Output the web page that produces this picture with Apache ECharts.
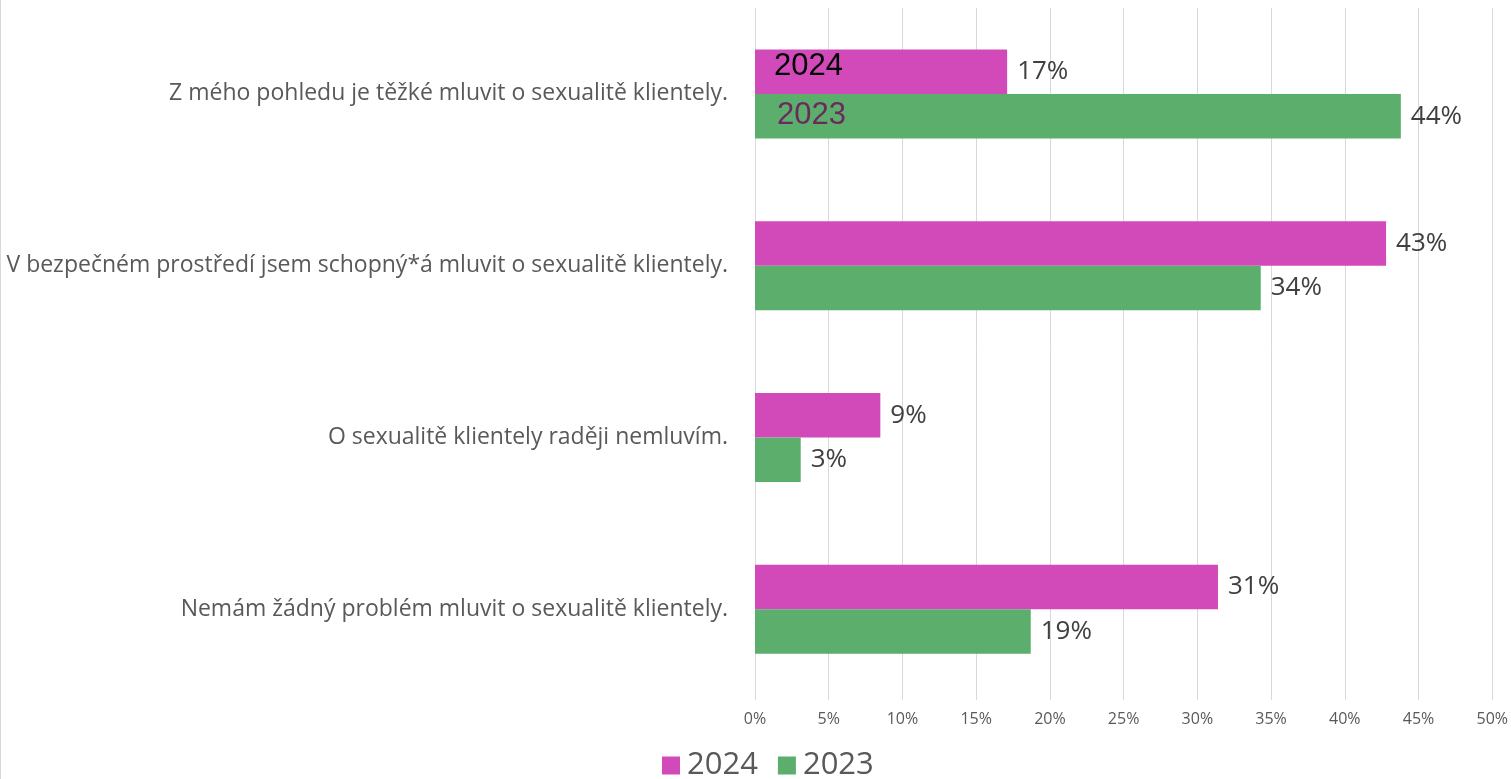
<!DOCTYPE html>
<html><head><meta charset="utf-8">
<script src="https://cdn.jsdelivr.net/npm/echarts@6/dist/echarts.min.js"></script>
<style>html,body{margin:0;padding:0;background:#fff}#c{width:1511px;height:779px}</style>
</head><body><div id="c"></div>
<script>
const categories = [
  'Z mého pohledu je těžké mluvit o sexualitě klientely.',
  'V bezpečném prostředí jsem schopný*á mluvit o sexualitě klientely.',
  'O sexualitě klientely raději nemluvím.',
  'Nemám žádný problém mluvit o sexualitě klientely.'
];
const seriesNames = ['2024', '2023'];
const values2024 = [17.1, 42.8, 8.5, 31.4];
const values2023 = [43.8, 34.3, 3.1, 18.7];
const xMin = 0, xMax = 50, xStep = 5;
const insideLabels = ['2024', '2023'];

const colors = ['#D24AB9', '#5BAE6B'];
const chart = echarts.init(document.getElementById('c'), null, {renderer: 'canvas'});
const valueLabel = {
  show: true, position: 'right', distance: 10,
  formatter: p => Math.round(p.value) + '%',
  color: '#404040', fontFamily: 'Open Sans', fontSize: 26
};
chart.setOption({
  animation: false,
  backgroundColor: '#fff',
  grid: {left: 755, right: 18, top: 8, bottom: 84, containLabel: false},
  legend: {
    data: seriesNames, left: 657, top: 745, itemWidth: 18, itemHeight: 18, itemGap: 20,
    icon: 'rect',
    textStyle: {fontFamily: 'Liberation Sans Narrow, Open Sans', fontSize: 31, color: '#595959', padding: [0,0,0,2]}
  },
  xAxis: {
    type: 'value', min: xMin, max: xMax, interval: xStep,
    axisLabel: {formatter: v => v + '%', fontFamily: 'Liberation Sans Narrow, Open Sans', fontSize: 16, color: '#595959', margin: 16},
    axisLine: {show: false},
    axisTick: {show: true, length: 5, lineStyle: {color: '#d9d9d9'}},
    splitLine: {show: true, lineStyle: {color: '#d9d9d9', width: 1}}
  },
  yAxis: {
    type: 'category', data: categories, inverse: true,
    axisLine: {show: false}, axisTick: {show: false},
    axisLabel: {fontFamily: 'Open Sans', fontSize: 23, color: '#595959', margin: 27}
  },
  series: [
    {name: seriesNames[0], type: 'bar', data: values2024, barWidth: 44.5, barGap: '0%', barCategoryGap: '48%',
     itemStyle: {color: colors[0]}, label: valueLabel},
    {name: seriesNames[1], type: 'bar', data: values2023, barWidth: 44.5, barGap: '0%', barCategoryGap: '48%',
     itemStyle: {color: colors[1]}, label: valueLabel}
  ]
});
const p0 = chart.convertToPixel({gridIndex: 0}, [0, categories[0]]);
chart.setOption({
  graphic: [
    {type: 'line', z: 100, shape: {x1: 0.5, y1: 0, x2: 0.5, y2: 779}, style: {stroke: '#d9d9d9', lineWidth: 1}},
    {type: 'text', z: 100, x: p0[0] + 19, y: p0[1] - 27, style: {text: insideLabels[0], fill: '#000', fontFamily: 'Liberation Sans', fontSize: 31, verticalAlign: 'middle'}},
    {type: 'text', z: 100, x: p0[0] + 22, y: p0[1] + 22, style: {text: insideLabels[1], fill: '#6B2A5E', fontFamily: 'Liberation Sans', fontSize: 31, verticalAlign: 'middle'}}
  ]
});
</script></body></html>
